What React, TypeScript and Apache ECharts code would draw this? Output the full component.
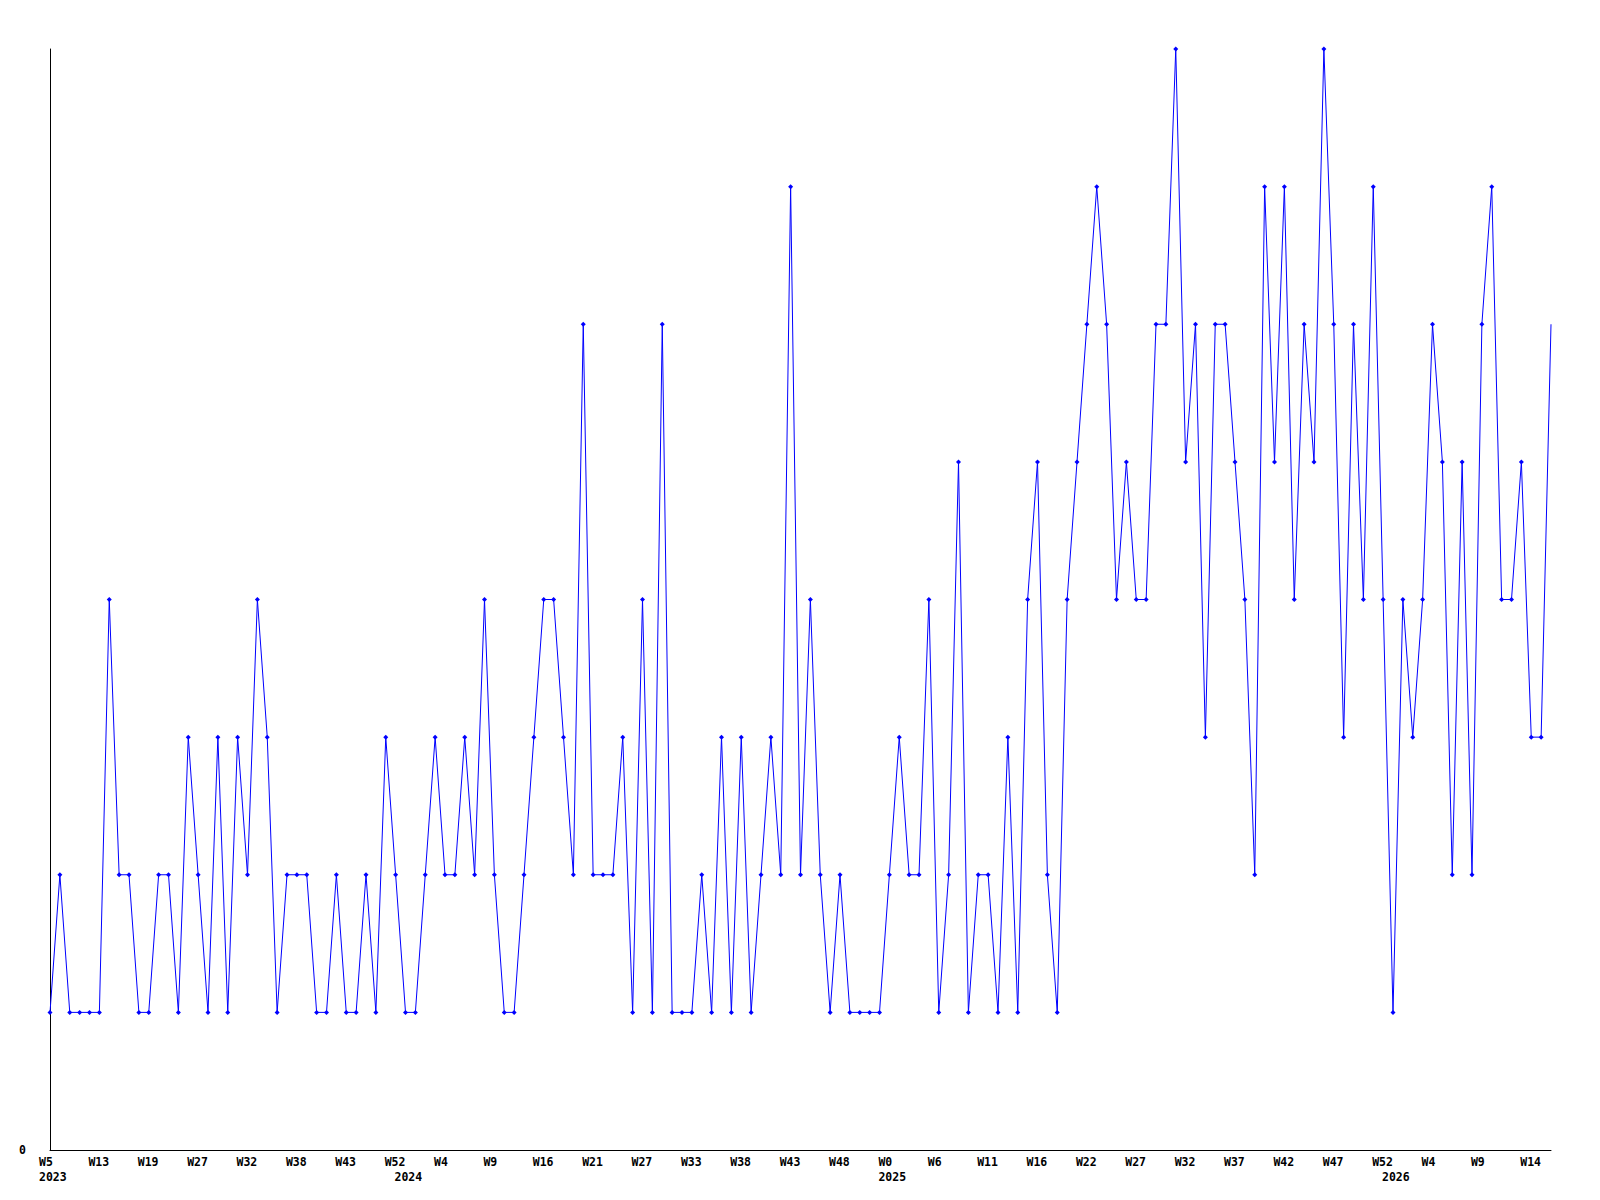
import React, { useEffect, useRef } from 'react';
import * as echarts from 'echarts';

// weekly values, one per category (153 points)
const values = [
  1, 2, 1, 1, 1, 1, 4, 2, 2, 1,
  1, 2, 2, 1, 3, 2, 1, 3, 1, 3,
  2, 4, 3, 1, 2, 2, 2, 1, 1, 2,
  1, 1, 2, 1, 3, 2, 1, 1, 2, 3,
  2, 2, 3, 2, 4, 2, 1, 1, 2, 3,
  4, 4, 3, 2, 6, 2, 2, 2, 3, 1,
  4, 1, 6, 1, 1, 1, 2, 1, 3, 1,
  3, 1, 2, 3, 2, 7, 2, 4, 2, 1,
  2, 1, 1, 1, 1, 2, 3, 2, 2, 4,
  1, 2, 5, 1, 2, 2, 1, 3, 1, 4,
  5, 2, 1, 4, 5, 6, 7, 6, 4, 5,
  4, 4, 6, 6, 8, 5, 6, 3, 6, 6,
  5, 4, 2, 7, 5, 7, 4, 6, 5, 8,
  6, 3, 6, 4, 7, 4, 1, 4, 3, 4,
  6, 5, 2, 5, 2, 6, 7, 4, 4, 5,
  3, 3, 6,
];

// tick labels shown every 5th category
const weekLabels = [
  'W5', 'W13', 'W19', 'W27', 'W32', 'W38', 'W43', 'W52', 'W4', 'W9',
  'W16', 'W21', 'W27', 'W33', 'W38', 'W43', 'W48', 'W0', 'W6', 'W11',
  'W16', 'W22', 'W27', 'W32', 'W37', 'W42', 'W47', 'W52', 'W4', 'W9', 'W14',
];
const labelStep = 5;

// year labels and the category index where each appears
const yearLabels = ['2023', '2024', '2025', '2026'];
const yearIndices = [0, 36, 85, 136];

const yMin = 0;
const yMax = 8;

const categories = values.map((_, i) => String(i));

const labelFont = {
  fontFamily: 'DejaVu Sans Mono',
  fontWeight: 'bold' as const,
  fontSize: 11.5,
  color: '#000',
};

export default function App() {
  const ref = useRef<HTMLDivElement>(null);

  useEffect(() => {
    document.body.style.margin = '0';
    if (!ref.current) return;
    const chart = echarts.init(ref.current, undefined, { renderer: 'svg' });
    const seriesData = values.map((v, i) =>
      i === values.length - 1 ? { value: v, symbol: 'none' } : v
    );
    chart.setOption({
      animation: false,
      backgroundColor: '#fff',
      grid: { left: 50, right: 49, top: 49, bottom: 50, containLabel: false },
      xAxis: [
        {
          type: 'category',
          data: categories,
          boundaryGap: false,
          position: 'bottom',
          axisLine: { show: true, lineStyle: { color: '#000', width: 1 } },
          axisTick: { show: false },
          splitLine: { show: false },
          axisLabel: {
            ...labelFont,
            interval: labelStep - 1,
            align: 'left',
            padding: [0, 0, 0, -11],
            margin: 6,
            formatter: (_v: string, idx: number) =>
              idx % labelStep === 0 ? weekLabels[idx / labelStep] ?? '' : '',
          },
        },
        {
          type: 'category',
          data: categories,
          boundaryGap: false,
          position: 'bottom',
          axisLine: { show: false },
          axisTick: { show: false },
          splitLine: { show: false },
          axisLabel: {
            ...labelFont,
            interval: (idx: number) => yearIndices.includes(idx),
            align: 'left',
            padding: [0, 0, 0, -11],
            margin: 21,
            formatter: (_v: string, idx: number) => {
              const k = yearIndices.indexOf(idx);
              return k >= 0 ? yearLabels[k] : '';
            },
          },
        },
      ],
      yAxis: {
        type: 'value',
        min: yMin,
        max: yMax,
        interval: 1,
        axisLine: { show: true, lineStyle: { color: '#000', width: 1 } },
        axisTick: { show: false },
        splitLine: { show: false },
        axisLabel: {
          ...labelFont,
          margin: 24,
          formatter: (v: number) => (v === 0 ? '0' : ''),
        },
      },
      series: [
        {
          type: 'line',
          xAxisIndex: 0,
          data: seriesData,
          symbol: 'diamond',
          symbolSize: 5,
          showAllSymbol: true,
          lineStyle: { color: '#0000ff', width: 1 },
          itemStyle: { color: '#0000ff' },
        },
      ],
    });
    return () => chart.dispose();
  }, []);

  return <div ref={ref} style={{ width: 1600, height: 1200 }} />;
}
